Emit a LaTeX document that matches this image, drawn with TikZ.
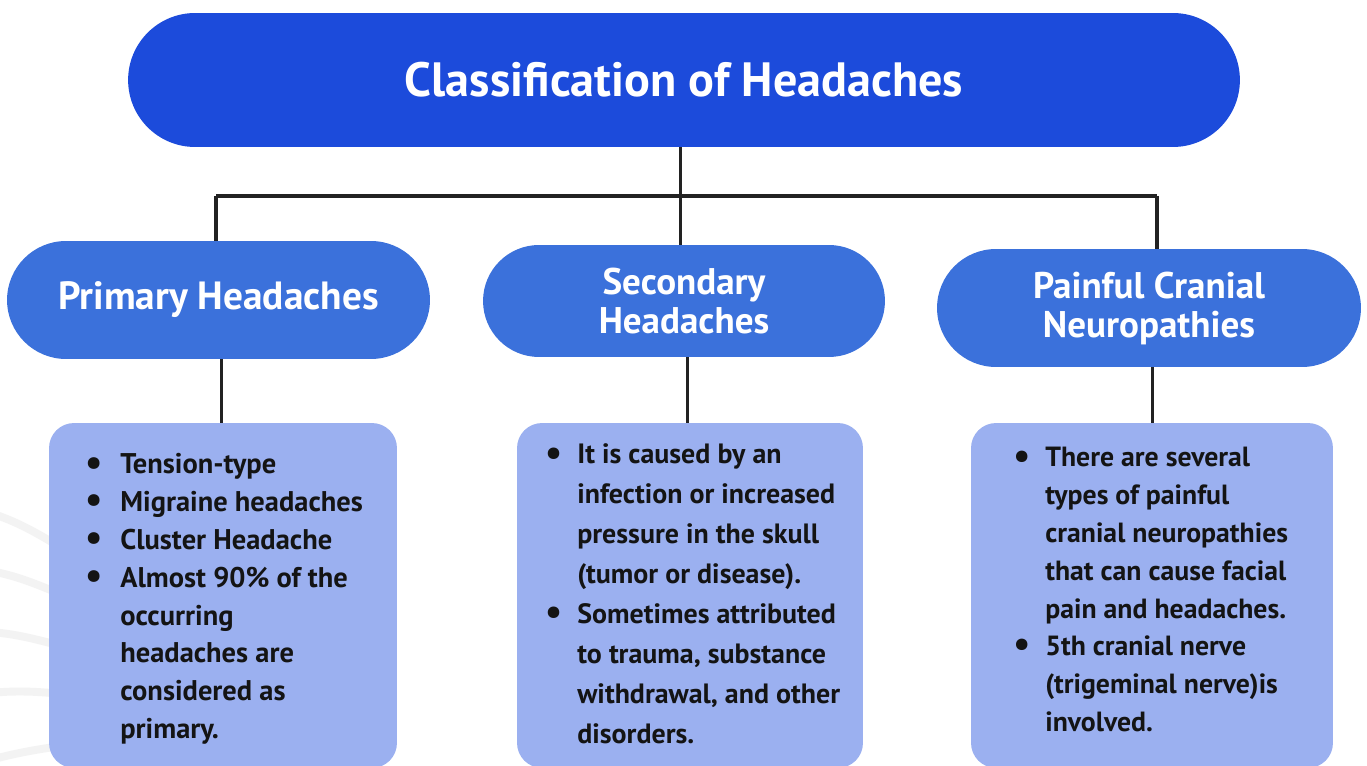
\documentclass[tikz,border=0pt]{standalone}
\usepackage{fontspec}
\setmainfont{PT Sans}
\usepackage{tikz}
\usetikzlibrary{calc,positioning}
\definecolor{titleblue}{RGB}{28,75,219}
\definecolor{headblue}{RGB}{59,113,219}
\definecolor{boxblue}{RGB}{155,176,240}
\definecolor{linegray}{RGB}{34,34,34}
\definecolor{ringgray}{RGB}{243,243,243}
\newcommand{\dotmark}{\raisebox{-0.6pt}{\scalebox{1.35}{\textbullet}}}
\tikzset{
	pill/.style={fill=headblue, text=white, align=center, inner sep=0pt,
		font=\bfseries\fontsize{21.1}{22.2}\selectfont},
	listbox/.style={fill=boxblue, rounded corners=0.5cm, minimum height=6.9cm, inner sep=0pt},
	listtext/.style={anchor=base west, inner sep=0pt, text=black!92},
	link/.style={draw=linegray, line width=1.8pt},
	ring/.style={draw=ringgray, line width=4.5pt},
}
\begin{document}
\begin{tikzpicture}[x=0.02cm, y=-0.02cm]
		\useasboundingbox[fill=white] (0,0) rectangle (1367,766);
		\draw[ring] (-10,513) .. controls (20,522) and (45,538) .. (70,553);
		\draw[ring] (-10,571) .. controls (20,576) and (45,588) .. (70,598);
		\draw[ring] (-10,632) .. controls (20,634) and (45,642) .. (70,648);
		\draw[ring] (-10,693) .. controls (20,690) and (45,692) .. (70,695);
		\draw[ring] (-10,760) .. controls (20,752) and (45,748) .. (70,745);
		\node[fill=titleblue, text=white, minimum width=22.24cm, minimum height=2.68cm, rounded corners=1.34cm,
			font=\bfseries\fontsize{27.4}{33}\selectfont] (title) at (684,80) {Classification of Headaches};
		\node[pill, minimum width=8.46cm, minimum height=2.36cm, rounded corners=1.18cm,
			font=\bfseries\fontsize{22.4}{24}\selectfont] (prim) at (218.5,300) {Primary Headaches};
		\node[pill, minimum width=8.04cm, minimum height=2.24cm, rounded corners=1.12cm] (sec) at (684,301) {Secondary\\Headaches};
		\node[pill, minimum width=8.48cm, minimum height=2.36cm, rounded corners=1.18cm] (pain) at (1149,308) {Painful Cranial\\Neuropathies};
		\node[listbox, minimum width=6.96cm] (primbox) at (223,595.5) {};
		\node[listbox, minimum width=6.92cm] (secbox) at (690,595.5) {};
		\node[listbox, minimum width=7.24cm] (painbox) at (1152,595.5) {};
		\coordinate (barL) at (216,196);
		\coordinate (barR) at (1157,196);
		\draw[link] ([xshift=-2]title.south) -- ([xshift=-2]sec.north);
		\draw[link] (barL) -- (barR);
		\draw[link] (barL) -- (barL |- prim.north);
		\draw[link] (barR) -- (barR |- pain.north);
		\draw[link] ([xshift=1.5]prim.south) -- ([xshift=1.5]prim.south |- primbox.north);
		\draw[link] ([xshift=2]sec.south) -- ([xshift=2]sec.south |- secbox.north);
		\draw[link] ([xshift=2]pain.south) -- ([xshift=2]pain.south |- painbox.north);
		\node[listtext, font=\bfseries\fontsize{16.2}{21.5}\selectfont] (primtxt) at (85,474) {%
			\begin{tabular}[t]{@{}p{0.70cm}@{}l@{}}
				\dotmark & Tension-type\\
				\dotmark & Migraine headaches\\
				\dotmark & Cluster Headache\\
				\dotmark & Almost 90\% of the\\
				& occurring\\
				& headaches are\\
				& considered as\\
				& primary.
			\end{tabular}};
		\node[listtext, font=\bfseries\fontsize{15.9}{22.7}\selectfont] (sectxt) at (545,464) {%
			\begin{tabular}[t]{@{}p{0.64cm}@{}l@{}}
				\dotmark & It is caused by an\\
				& infection or increased\\
				& pressure in the skull\\
				& (tumor or disease).\\
				\dotmark & Sometimes attributed\\
				& to trauma, substance\\
				& withdrawal, and other\\
				& disorders.
			\end{tabular}};
		\node[listtext, font=\bfseries\fontsize{15.8}{21.5}\selectfont] (paintxt) at (1013,467) {%
			\begin{tabular}[t]{@{}p{0.64cm}@{}l@{}}
				\dotmark & There are several\\
				& types of painful\\
				& cranial neuropathies\\
				& that can cause facial\\
				& pain and headaches.\\
				\dotmark & 5th cranial nerve\\
				& (trigeminal nerve)is\\
				& involved.
			\end{tabular}};
\end{tikzpicture}
\end{document}
